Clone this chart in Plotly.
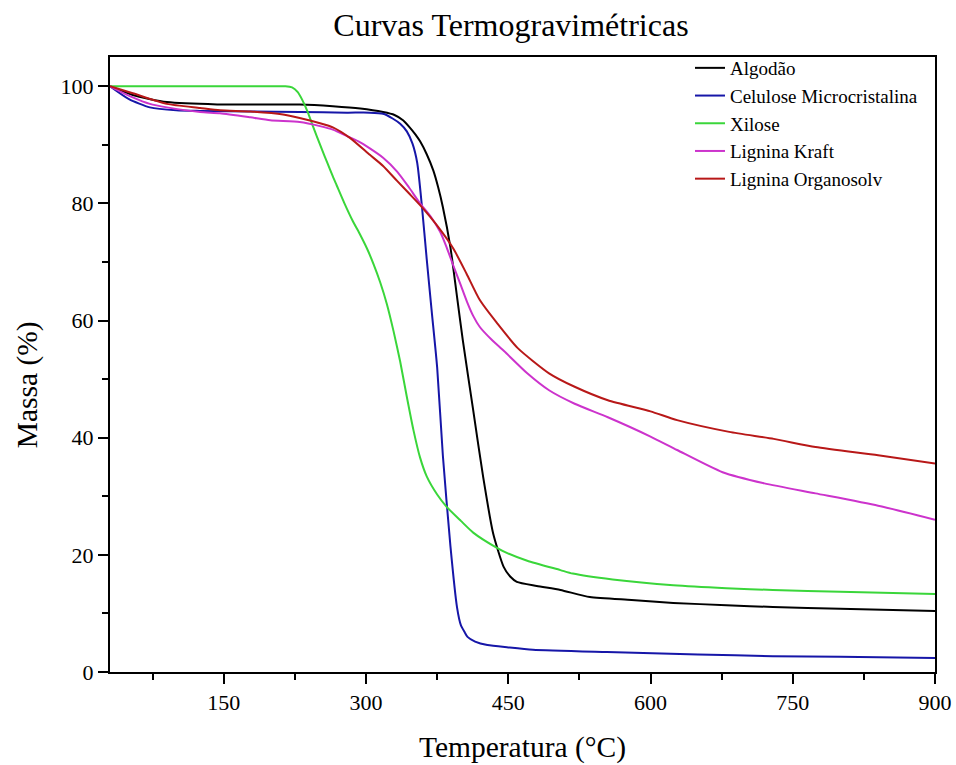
import plotly.graph_objects as go

# Thermogravimetric curves: temperature (°C) vs. remaining mass (%)
algodao_t = [30, 54, 90, 143, 206, 230, 265, 294, 318, 330, 339, 346, 352, 357, 364, 371, 376, 381, 389, 396,
             402, 413, 423.5, 434, 445, 452, 459, 480, 505, 536, 580, 624, 680, 729, 800, 900]
algodao_m = [100, 98.5, 97.3, 96.9, 96.9, 96.9, 96.6, 96.2, 95.6, 95.1, 94.2, 93.0, 91.8, 90.6, 88.4, 85.6, 82.8, 79.4, 72.5, 64,
             56.7, 44.7, 33.3, 23.7, 18, 16.3, 15.4, 14.7, 14, 12.8, 12.3, 11.8, 11.4, 11.1, 10.8, 10.4]

celulose_t = [30, 50, 72, 100, 125, 180, 230, 280, 304, 318, 328, 336, 343, 349, 354, 359, 364, 369,
              375, 381, 389, 396, 400, 404, 407, 415, 428, 450, 476, 554, 650, 729, 800, 900]
celulose_m = [100, 97.8, 96.4, 95.9, 95.8, 95.7, 95.6, 95.5, 95.5, 95.3, 94.5, 93.6, 92.3, 90.2, 86.9, 79.4, 70.5, 62,
              52, 37, 21.5, 11, 8, 6.8, 6, 5.2, 4.6, 4.2, 3.8, 3.4, 3.0, 2.7, 2.6, 2.4]

xilose_t = [30, 100, 150, 206, 215, 222, 228, 233, 238, 244, 248, 254, 259, 265, 269, 277, 286, 293,
            301, 308, 315, 322, 329, 336, 343, 350, 357, 364, 375, 385, 400, 413, 438, 449, 470, 505,
            518, 560, 624, 680, 729, 800, 900]
xilose_m = [100, 100, 100, 100, 100, 99.8, 99.0, 97.6, 95.8, 93.2, 91.5, 89.0, 87.0, 84.6, 83.1, 80.1, 77, 74.9,
            72.3, 69.6, 66.5, 62.8, 58.2, 53.0, 47.0, 41.3, 36.6, 33.4, 30.3, 28.2, 25.8, 23.8, 21.2, 20.3, 19, 17.4,
            16.8, 15.8, 14.8, 14.3, 14.0, 13.7, 13.3]

kraft_t = [30, 54, 72, 90, 125, 146, 178, 199, 230, 251.5, 265, 280, 292, 304, 318, 333, 345, 357, 368, 378, 385, 392,
           400, 406.5, 413, 420, 432, 445.5, 470, 493, 520, 555, 600, 628, 676, 720, 774, 840, 900]
kraft_m = [100, 98.1, 97, 96.4, 95.6, 95.4, 94.7, 94.2, 93.9, 93.2, 92.6, 91.5, 90.6, 89.4, 87.8, 85.4, 82.8, 80.0, 77.8, 75.2, 72.5, 69.4,
           66, 63.2, 60.8, 58.9, 56.8, 54.8, 51, 48.1, 45.8, 43.5, 40.2, 37.9, 34.1, 32.2, 30.5, 28.4, 26]

organosolv_t = [30, 54, 90, 125, 146, 178, 212.5, 230, 251.5, 265, 283, 304, 318, 333, 346, 357, 375, 392,
                406, 420, 438, 460, 493, 520, 555, 600, 628, 683, 730, 774, 840, 900]
organosolv_m = [100, 98.8, 97, 96.3, 95.9, 95.7, 95.2, 94.6, 93.7, 93.0, 91.2, 88.3, 86.4, 83.8, 81.6, 79.7, 76.2, 72.3,
                68, 63.5, 59.6, 55.3, 51, 48.7, 46.4, 44.5, 43, 41, 39.8, 38.4, 37, 35.6]

series = [
    ("Algodão", algodao_t, algodao_m, "#000000"),
    ("Celulose Microcristalina", celulose_t, celulose_m, "#1616a8"),
    ("Xilose", xilose_t, xilose_m, "#3ad63a"),
    ("Lignina Kraft", kraft_t, kraft_m, "#cc33cc"),
    ("Lignina Organosolv", organosolv_t, organosolv_m, "#b81818"),
]

FONT = "Liberation Serif, Times New Roman, serif"

fig = go.Figure()
for name, t, m, color in series:
    fig.add_trace(go.Scatter(x=t, y=m, mode="lines", name=name,
                             line=dict(color=color, width=2, shape="spline", smoothing=0.6)))

axis_common = dict(
    showgrid=False, zeroline=False,
    showline=True, linecolor="black", linewidth=2, mirror=True,
    ticks="outside", ticklen=10, tickwidth=2, tickcolor="black",
    tickfont=dict(family=FONT, size=22, color="black"),
)

fig.update_xaxes(
    range=[30, 900], tick0=0, dtick=150,
    minor=dict(ticks="outside", ticklen=6, tickwidth=2, tickcolor="black", tick0=0, dtick=75),
    title=dict(text="Temperatura (°C)", font=dict(family=FONT, size=29.5, color="black"), standoff=22),
    **axis_common,
)
fig.update_yaxes(
    range=[0, 105], tick0=0, dtick=20,
    minor=dict(ticks="outside", ticklen=6, tickwidth=2, tickcolor="black", tick0=0, dtick=10),
    **axis_common,
)

fig.add_annotation(
    text="Massa (%)", textangle=-90,
    xref="paper", yref="paper", x=-0.1, y=0.467,
    xanchor="center", yanchor="middle", showarrow=False,
    font=dict(family=FONT, size=29.5, color="black"),
)

fig.update_layout(
    width=956, height=765,
    margin=dict(l=110, r=21, t=57, b=93, autoexpand=False),
    paper_bgcolor="white", plot_bgcolor="white",
    font=dict(family=FONT, color="black"),
    title=dict(text="Curvas Termogravimétricas", x=0.5345, xref="container",
               y=0.968, yref="container", xanchor="center", yanchor="middle",
               font=dict(family=FONT, size=32, color="black")),
    legend=dict(x=0.703, y=1.013, xanchor="left", yanchor="top",
                bgcolor="rgba(0,0,0,0)", borderwidth=0,
                font=dict(family=FONT, size=19, color="black"),
                tracegroupgap=0),
    showlegend=True,
)

fig.write_html("out.html", config={"displayModeBar": False})
